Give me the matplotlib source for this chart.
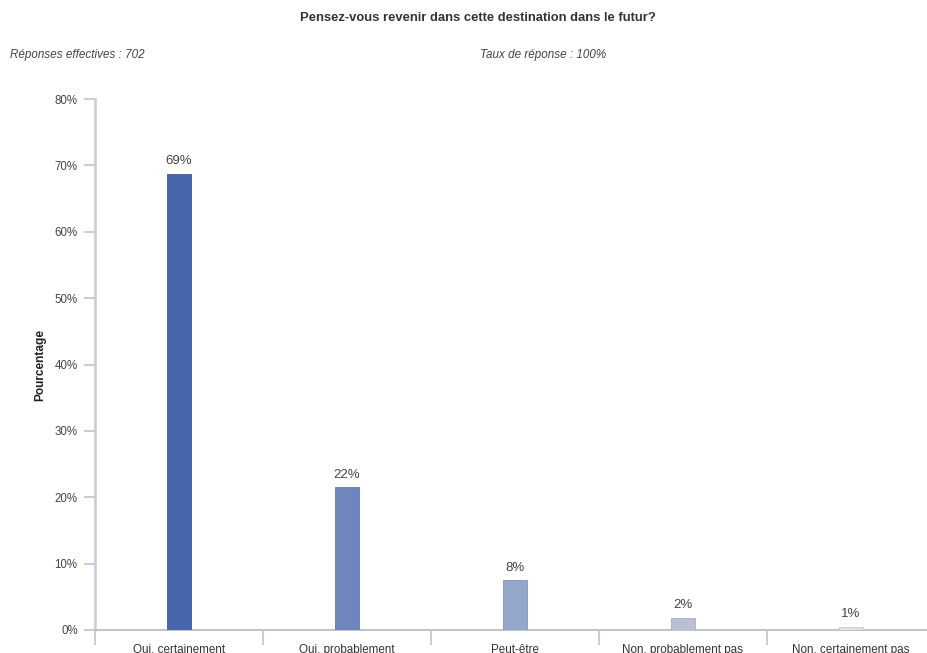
import matplotlib
matplotlib.use("Agg")
import matplotlib.pyplot as plt
from matplotlib.ticker import FuncFormatter

categories = ["Oui, certainement", "Oui, probablement", "Peut-être",
              "Non, probablement pas", "Non, certainement pas"]
values = [68.7, 21.5, 7.5, 1.8, 0.45]
labels = ["69%", "22%", "8%", "2%", "1%"]
colors = ["#4565ad", "#6e86be", "#95a6cb", "#b9c0d6", "#e2e2e2"]
yticks = [0, 10, 20, 30, 40, 50, 60, 70, 80]

plt.rcParams['font.family'] = ['Liberation Sans', 'DejaVu Sans']

W, H = 927, 653
fig = plt.figure(figsize=(W / 100, H / 100), dpi=100)
ax = fig.add_axes([95 / W, (H - 630) / H, 840 / W, (630 - 99) / H])

x = list(range(len(categories)))
ax.bar(x, values, width=0.137, color=colors, edgecolor=[
    "#3e5a9c", "#6378ab", "#8695b7", "#a6adc1", "#cbcbcb"], linewidth=0.6, zorder=3)
for xi, v, lab in zip(x, values, labels):
    ax.text(xi, v + 1.0, lab, ha="center", va="bottom", fontsize=9.5, color="#444444")

ax.set_xlim(-0.5, 4.5)
ax.set_ylim(0, 80)
ax.set_yticks(yticks)
ax.yaxis.set_major_formatter(FuncFormatter(lambda v, p: f"{int(v)}%"))
ax.set_xticks(x)
ax.set_xticklabels(categories)
ax.tick_params(axis="x", length=0, labelsize=8.4, labelcolor="#333333", pad=10)
ax.set_xticks([i - 0.5 for i in range(len(categories) + 1)], minor=True)
ax.tick_params(axis="x", which="minor", length=11, width=1.2, color="#c0c4d0")
ax.tick_params(axis="y", length=8, width=1.2, color="#c0c4d0", labelsize=8.3,
               labelcolor="#444444", pad=4.5)

for s in ["top", "right"]:
    ax.spines[s].set_visible(False)
ax.spines["left"].set_color("#c8ccd8")
ax.spines["left"].set_linewidth(1.8)
ax.spines["bottom"].set_color("#c0c4d0")
ax.spines["bottom"].set_linewidth(1.5)

ax.set_ylabel("Pourcentage", fontsize=8.6, fontweight="bold", color="#222222", labelpad=6)

fig.text(478 / W, 1 - 18 / H, "Pensez-vous revenir dans cette destination dans le futur?",
         ha="center", va="center", fontsize=9.4, fontweight="bold", color="#333333")
fig.text(10 / W, 1 - 55 / H, "Réponses effectives : 702", ha="left", va="center",
         fontsize=8.4, style="italic", color="#444444")
fig.text(480 / W, 1 - 55 / H, "Taux de réponse : 100%", ha="left", va="center",
         fontsize=8.4, style="italic", color="#444444")

fig.savefig("out.png", dpi=100)
